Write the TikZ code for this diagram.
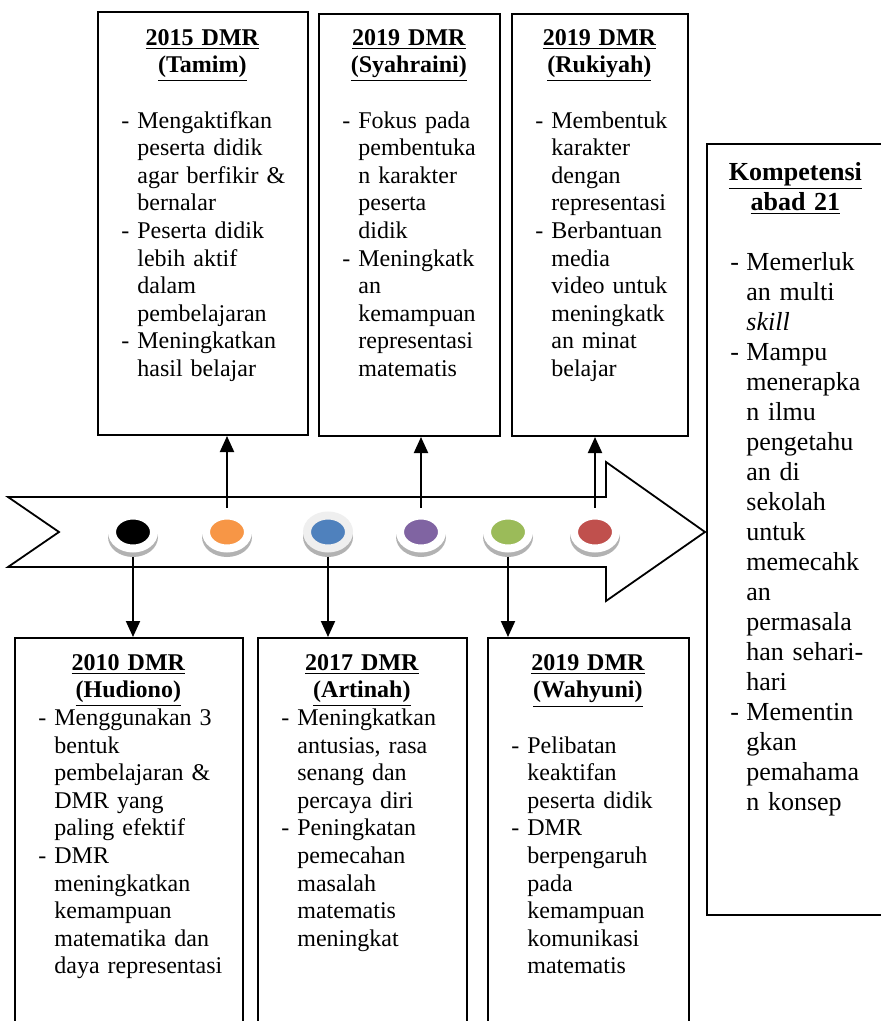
\documentclass[tikz,border=0pt]{standalone}
\usepackage{fontspec}
\setmainfont{Liberation Serif}
\usepackage{xcolor}
\usepackage{tikz}
\usetikzlibrary{positioning, arrows.meta, shapes.geometric}
\definecolor{dotorange}{HTML}{F79646}
\definecolor{dotblue}{HTML}{4F81BD}
\definecolor{dotpurple}{HTML}{8064A2}
\definecolor{dotgreen}{HTML}{9BBB59}
\definecolor{dotred}{HTML}{C0504D}
\definecolor{ringgray}{HTML}{EFEFEF}
\newcommand{\judul}[2]{{\centering\bfseries\strut\underline{#1}\\\underline{#2}\par}}
\newcommand{\butir}[1]{\leftskip=20pt\noindent\hspace*{-8pt}\makebox[8pt][l]{-}#1\par}

\begin{document}
\begin{tikzpicture}[x=0.5pt, y=-0.5pt,
    kotak/.style={draw, line width=1pt, inner sep=0pt, anchor=north west},
    isi/.style={anchor=north west, inner xsep=0pt, align=left, font=\fontsize{12}{13.8}\selectfont},
    panah/.style={line width=1pt, shorten <=2pt, -{Triangle[length=8pt, width=7pt]}},
    titik/.style={ellipse, line width=4pt, minimum width=21pt, minimum height=16.5pt, inner sep=0pt},
    pita/.style={draw, line width=0.9pt, fill=white}]
  \useasboundingbox (0,0) rectangle (880,1021);
  \fill[white] (0,0) rectangle (880,1021);

  % kotak atas
  \node[kotak, minimum width=105pt, minimum height=211.5pt] (tamim) at (97,11) {};
  \node[kotak, minimum width=90.5pt, minimum height=211pt] (syahraini) at (318,13) {};
  \node[kotak, minimum width=88pt, minimum height=211pt] (rukiyah) at (511,13) {};
  \node[kotak, minimum width=89pt, minimum height=385.5pt] (kompetensi) at (706,143) {};

  % kotak bawah
  \node[kotak, minimum width=114pt, minimum height=205pt] (hudiono) at (14,637) {};
  \node[kotak, minimum width=104.5pt, minimum height=205pt] (artinah) at (257,637) {};
  \node[kotak, minimum width=100.5pt, minimum height=205pt] (wahyuni) at (487,637) {};

  \node[isi, text width=105pt, inner ysep=7.3pt] (tamimisi) at (tamim.north west) {%
    \judul{2015 DMR}{(Tamim)}\vspace{13.8pt}
    \butir{Mengaktifkan\\peserta didik\\agar berfikir \&\\bernalar}
    \butir{Peserta didik\\lebih aktif\\dalam\\pembelajaran}
    \butir{Meningkatkan\\hasil belajar}};
  \node[isi, text width=90.5pt, inner ysep=6.3pt] (syahrainiisi) at (syahraini.north west) {%
    \judul{2019 DMR}{(Syahraini)}\vspace{13.8pt}
    \butir{Fokus pada\\pembentuka\\n karakter\\peserta\\didik}
    \butir{Meningkatk\\an\\kemampuan\\representasi\\matematis}};
  \node[isi, text width=88pt, inner ysep=6.3pt] (rukiyahisi) at (rukiyah.north west) {%
    \judul{2019 DMR}{(Rukiyah)}\vspace{13.8pt}
    \butir{Membentuk\\karakter\\dengan\\representasi}
    \butir{Berbantuan\\media\\video untuk\\meningkatk\\an minat\\belajar}};
  \node[isi, text width=89pt, inner ysep=8pt, font=\fontsize{13}{15}\selectfont] (kompetensiisi) at (kompetensi.north west) {%
    \judul{Kompetensi}{abad 21}\vspace{15pt}
    \butir{Memerluk\\an multi\\\textit{skill}}
    \butir{Mampu\\menerapka\\n ilmu\\pengetahu\\an di\\sekolah\\untuk\\memecahk\\an\\permasala\\han sehari-\\hari}
    \butir{Mementin\\gkan\\pemahama\\n konsep}};
  \node[isi, text width=114pt, inner ysep=6.8pt] (hudionoisi) at (hudiono.north west) {%
    \judul{2010 DMR}{(Hudiono)}
    \butir{Menggunakan 3\\bentuk\\pembelajaran \&\\DMR yang\\paling efektif}
    \butir{DMR\\meningkatkan\\kemampuan\\matematika dan\\daya representasi}};
  \node[isi, text width=104.5pt, inner ysep=6.8pt] (artinahisi) at (artinah.north west) {%
    \judul{2017 DMR}{(Artinah)}
    \butir{Meningkatkan\\antusias, rasa\\senang dan\\percaya diri}
    \butir{Peningkatan\\pemecahan\\masalah\\matematis\\meningkat}};
  \node[isi, text width=100.5pt, inner ysep=6.8pt] (wahyuniisi) at (wahyuni.north west) {%
    \judul{2019 DMR}{(Wahyuni)}\vspace{13.8pt}
    \butir{Pelibatan\\keaktifan\\peserta didik}
    \butir{DMR\\berpengaruh\\pada\\kemampuan\\komunikasi\\matematis}};

  % garis waktu
  \draw[pita] (8,497) -- (606,497) -- (606,462) -- (705,532) -- (606,601)
    -- (606,567) -- (8,567) -- (59,532) -- cycle;

  \foreach \nama/\x/\warna/\cincin in {dhudiono/133/black/white, dtamim/227/dotorange/white,
      dartinah/328/dotblue/ringgray, dsyahraini/421/dotpurple/white,
      dwahyuni/508/dotgreen/white, drukiyah/595/dotred/white} {
    \fill[gray!60] (\x,537) ellipse (12.5pt and 10pt);
    \node[titik, fill=\warna, draw=\cincin] (\nama) at (\x,532) {};
  }

  \draw[panah] (dtamim.north) -- (dtamim.north |- tamim.south);
  \draw[panah] (dsyahraini.north) -- (dsyahraini.north |- syahraini.south);
  \draw[panah] (drukiyah.north) -- (drukiyah.north |- rukiyah.south);
  \draw[panah] (dhudiono.south) -- (dhudiono.south |- hudiono.north);
  \draw[panah] (dartinah.south) -- (dartinah.south |- artinah.north);
  \draw[panah] (dwahyuni.south) -- (dwahyuni.south |- wahyuni.north);
\end{tikzpicture}
\end{document}
